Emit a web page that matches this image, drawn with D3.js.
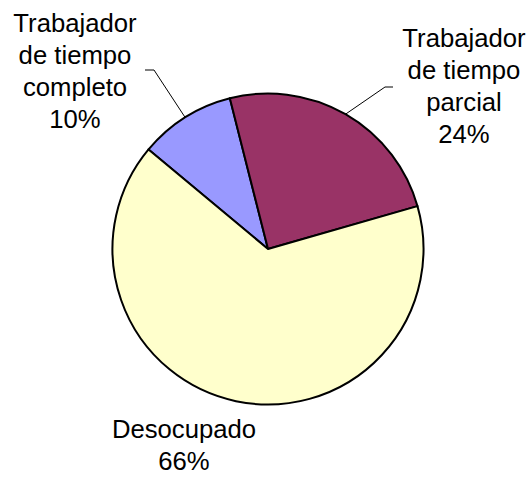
<!DOCTYPE html>
<html>
<head>
<meta charset="utf-8">
<script src="https://cdn.jsdelivr.net/npm/d3@7/dist/d3.min.js"></script>
<style>
  body { margin: 0; background: #fff; }
  svg { display: block; }
</style>
</head>
<body>
<div id="chart"></div>
<script>
const categories = ["Trabajador de tiempo completo", "Trabajador de tiempo parcial", "Desocupado"];
const values = [10.0, 24.5, 65.5];
const percentLabels = ["10%", "24%", "66%"];
const labelLines = [
    ["Trabajador", "de tiempo", "completo"],
    ["Trabajador", "de tiempo", "parcial"],
    ["Desocupado"]
];
const colors = ["#9999FF", "#993366", "#FFFFCC"];

const width = 532, height = 477;
const cx = 268, cy = 249, radius = 155.5;
const lineHeight = 32.3;

// where each label block sits (center x, first baseline y) and leader elbow
const labelLayout = [
    { x: 75, y: 31.5, leader: [[145, 70], [154, 70]] },
    { x: 464, y: 46.5, leader: [[393, 87], [385, 87]] },
    { x: 184, y: 437.5, leader: null }
];

const data = categories.map((c, i) => ({ name: c, value: values[i], pct: percentLabels[i], lines: labelLines[i], color: colors[i], layout: labelLayout[i] }));

const svg = d3.select("#chart").append("svg")
    .attr("width", width)
    .attr("height", height)
    .attr("viewBox", [0, 0, width, height]);

const pie = d3.pie()
    .value(d => d.value)
    .sort(null)
    .startAngle(-50.2 * Math.PI / 180)
    .endAngle(-50.2 * Math.PI / 180 + 2 * Math.PI);

const arc = d3.arc().innerRadius(0).outerRadius(radius);
const edge = d3.arc().innerRadius(radius).outerRadius(radius);

const arcs = pie(data);

const g = svg.append("g").attr("transform", `translate(${cx},${cy})`);

g.selectAll("path.slice")
    .data(arcs)
    .join("path")
    .attr("class", "slice")
    .attr("d", arc)
    .attr("fill", d => d.data.color)
    .attr("stroke", "#000")
    .attr("stroke-width", 2)
    .attr("stroke-linejoin", "round");

// leader lines from the slice edge to the label
arcs.filter(d => d.data.layout.leader).forEach(d => {
    const [ex, ey] = edge.centroid(d);
    const pts = d.data.layout.leader.concat([[ex + cx, ey + cy]]);
    svg.append("path")
        .attr("d", d3.line()(pts))
        .attr("fill", "none")
        .attr("stroke", "#000")
        .attr("stroke-width", 1);
});

// labels
data.forEach(d => {
    const t = svg.append("text")
        .attr("x", d.layout.x)
        .attr("y", d.layout.y)
        .attr("text-anchor", "middle")
        .attr("font-family", "Liberation Sans, Arial, sans-serif")
        .attr("font-size", 25.7)
        .attr("fill", "#000");
    d.lines.concat([d.pct]).forEach((line, i) => {
        t.append("tspan")
            .attr("x", d.layout.x)
            .attr("dy", i === 0 ? 0 : lineHeight)
            .text(line);
    });
});
</script>
</body>
</html>
